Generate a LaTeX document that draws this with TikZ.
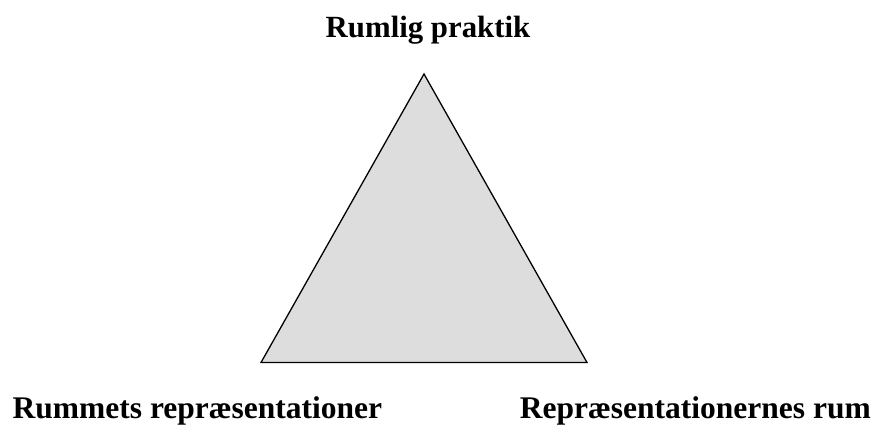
\documentclass[tikz,border=0pt]{standalone}
\usepackage{fontspec}
\setmainfont{Liberation Serif}
\begin{document}
\begin{tikzpicture}[x=1pt,y=-1pt,
  lbl/.style={font=\fontsize{31.5}{36}\selectfont\bfseries, inner sep=0pt},
  toplbl/.style={font=\fontsize{30.8}{36}\selectfont\bfseries, inner sep=0pt}]
\useasboundingbox (0,0) rectangle (874,426);
\coordinate (top) at (424,74);
\coordinate (bl) at (261,362.5);
\coordinate (br) at (587,362.5);
\filldraw[fill={rgb,255:red,221;green,221;blue,221}, draw=black, line width=1.3pt, line join=miter] (top) -- (bl) -- (br) -- cycle;
\node[toplbl, anchor=base] (t) at (428,37.5) {Rumlig praktik};
\node[lbl, anchor=base west] (l) at (12.5,418) {Rummets repræsentationer};
\node[lbl, anchor=base east] (r) at (871,418) {Repræsentationernes rum};
\end{tikzpicture}
\end{document}
